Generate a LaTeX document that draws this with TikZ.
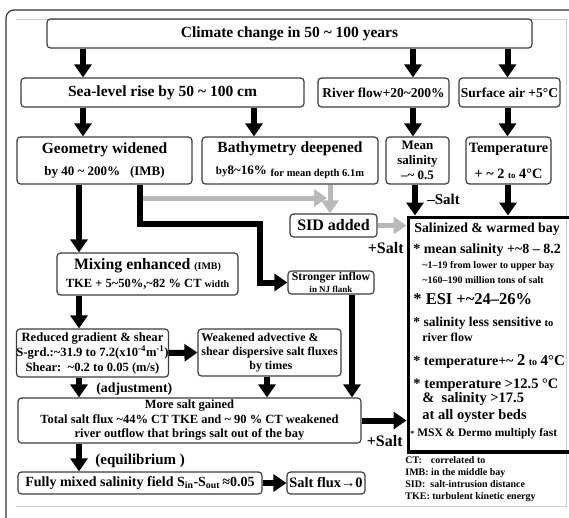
\documentclass[tikz,border=0pt]{standalone}
\usepackage{fontspec}
\setmainfont{Liberation Serif}
\usetikzlibrary{arrows.meta}

\definecolor{boxline}{RGB}{60,60,60}
\definecolor{arrowgrey}{RGB}{185,185,185}
\definecolor{framegrey}{RGB}{205,205,205}
\newcommand{\fsz}[2]{\fontsize{#1}{#2}\selectfont}
\newcommand{\tld}{\textasciitilde}

\tikzset{every picture/.style={line width=0.75pt}}
\tikzset{
  box/.style={draw=boxline, line width=1.2pt, rounded corners=3.5pt, inner sep=0pt, align=center, font=\bfseries},
  bigarrow/.style={draw=black, line width=6pt, -{Triangle[width=17pt,length=13pt]}},
  greyarrow/.style={draw=arrowgrey, line width=5pt, -{Triangle[width=17pt,length=13pt]}},
  lbl/.style={inner sep=0pt, font=\bfseries},
}

\begin{document}
\begin{tikzpicture}[x=1pt,y=1pt,yscale=-1]
\useasboundingbox (0,0) rectangle (569,517);
\clip (0,0) rectangle (569,517);

%Frame
\draw[draw=black!80, line width=1.2pt, rounded corners=8pt] (6,530) -- (6,10) -- (580,10);
\draw[draw=framegrey, line width=1pt] (16,19) -- (566,19) -- (566,506) -- (16,506);

%Boxes
\node[box, minimum width=485, minimum height=29] (climate) at (289.5,33.5) {\fsz{15.5}{18}Climate change in 50 \tld{} 100 years};
\node[box, minimum width=283, minimum height=29] (sealevel) at (162.5,92.5) {\fsz{15.5}{18}Sea-level rise by 50 \tld{} 100 cm};
\node[box, minimum width=131, minimum height=29] (river) at (383.5,92.5) {\fsz{13.5}{16}River flow+20\tld{}200\%};
\node[box, minimum width=101, minimum height=29] (surface) at (509.5,92.5) {\fsz{13.5}{16}Surface air +5°C};
\node[box, minimum width=175, minimum height=47, font=\bfseries\fsz{15.5}{22}] (geometry) at (104.5,160.5) {Geometry widened\\{\fsz{13}{22}by 40 \tld{} 200\%\hspace{10pt}(IMB)}};
\node[box, minimum width=176, minimum height=47, font=\bfseries\fsz{15.5}{22}] (bathy) at (290,160.5) {Bathymetry deepened\\{\fsz{11}{22}by}{\fsz{13}{22}8\tld16\%} \raisebox{-2pt}{\fsz{10.5}{12}for mean depth 6.1m}};
\node[box, minimum width=63, minimum height=47, font=\bfseries\fsz{13}{15}] (meansal) at (417.5,160.5) {Mean\\salinity\\–\tld{} 0.5};
\node[box, minimum width=85, minimum height=47, font=\bfseries\fsz{14.3}{26}] (temp) at (508.5,160.5) {Temperature\\+ \tld{} 2 {\fsz{9}{26}to} 4°C};
\node[box, minimum width=87, minimum height=23] (sid) at (333.5,225.5) {\fsz{16}{18}SID added};
\node[box, minimum width=181, minimum height=42, font=\bfseries\fsz{15.8}{18}] (mixing) at (147.5,274) {Mixing enhanced {\fsz{10}{18}(IMB)}\\{\fsz{12.5}{18}TKE + 5\tld50\%,\tld82 \% CT {\fsz{10}{18}width}}};
\node[box, minimum width=86, minimum height=23, font=\bfseries\fsz{11.7}{12}] (inflow) at (331,282.5) {Stronger inflow\\{\fsz{9}{12}in NJ flank}};
\node[box, minimum width=149, minimum height=48, font=\bfseries\fsz{12.6}{15}] (reduced) at (92.5,353) {Reduced gradient \& shear\\S-grd.:\tld31.9 to 7.2(x10\textsuperscript{-4}m\textsuperscript{-1})\\Shear:\ \ \tld0.2 to 0.05 (m/s)};
\node[box, minimum width=143, minimum height=47, font=\bfseries\fsz{12}{14}, align=left] (weakened) at (269.5,352.5) {Weakened advective \&\\shear dispersive salt fluxes\\\hspace{48pt}by times};
\node[box, minimum width=343, minimum height=45, font=\bfseries\fsz{12.5}{14.5}] (moresalt) at (189.5,420.5) {More salt gained\\Total salt flux \tld44\% CT TKE and \tld{} 90 \% CT weakened\\river outflow that brings salt out of the bay};
\node[box, minimum width=244, minimum height=22, font=\bfseries\fsz{14}{16}] (mixed) at (140,483) {Fully mixed salinity field S\textsubscript{in}-S\textsubscript{out}\,≈0.05};
\node[box, minimum width=78, minimum height=22, font=\bfseries\fsz{14.4}{16}] (saltflux) at (326,483) {Salt flux→0};
\node[draw=black, line width=3.5pt, minimum width=180, minimum height=234.5, inner sep=0pt, anchor=north west] (bay) at (406.5,215.5) {};

% Text Node
\node[lbl, anchor=base, font=\bfseries\fsz{13.8}{16}] (baytitle) at (487,232.5) {Salinized \& warmed bay};
% Text Node
\node[lbl, anchor=base west, font=\bfseries\fsz{14}{16}] (baysal) at (413,253.5) {* mean salinity +\tld8 – 8.2};
% Text Node
\node[lbl, anchor=base west, font=\bfseries\fsz{10}{12}] (baysala) at (422,268.5) {\tld1–19 from lower to upper bay};
% Text Node
\node[lbl, anchor=base west, font=\bfseries\fsz{10}{12}] (baysalb) at (422,283.5) {\tld160–190 million tons of salt};
% Text Node
\node[lbl, anchor=base west, font=\bfseries\fsz{16.5}{18}] (bayesi) at (413,304.5) {* ESI +\tld24–26\%};
% Text Node
\node[lbl, anchor=base west, font=\bfseries\fsz{13.5}{16}] (baysens) at (413,326.5) {* salinity less sensitive {\fsz{10.5}{12}to}};
% Text Node
\node[lbl, anchor=base west, font=\bfseries\fsz{12}{14}] (baysensb) at (422,341) {river flow};
% Text Node
\node[lbl, anchor=base west, font=\bfseries\fsz{14}{16}] (baytemp) at (413,365) {* temperature+\tld{} {\fsz{16.5}{18}2} {\fsz{10}{12}to} {\fsz{15}{18}4°C}};
% Text Node
\node[lbl, anchor=base west, font=\bfseries\fsz{14.5}{16}] (bayoys) at (413,388) {* temperature >12.5 °C};
% Text Node
\node[lbl, anchor=base west, font=\bfseries\fsz{14.5}{16}] (bayoysb) at (422,402) {\& \ salinity >17.5};
% Text Node
\node[lbl, anchor=base west, font=\bfseries\fsz{14.5}{16}] (bayoysc) at (422,419) {at all oyster beds};
% Text Node
\node[lbl, anchor=base west, font=\bfseries\fsz{11.5}{13}] (baymsx) at (410,436) {{\fsz{8}{10}*} MSX \& Dermo multiply fast};

% Text Node
\node[lbl, anchor=base west, font=\bfseries\fsz{10}{12}] (lgct) at (405,463) {CT:\hspace{9pt}correlated to};
% Text Node
\node[lbl, anchor=base west, font=\bfseries\fsz{10}{12}] (lgimb) at (405,475) {IMB: in the middle bay};
% Text Node
\node[lbl, anchor=base west, font=\bfseries\fsz{10}{12}] (lgsid) at (405,487) {SID:\hspace{5pt}salt-intrusion distance};
% Text Node
\node[lbl, anchor=base west, font=\bfseries\fsz{10}{12}] (lgtke) at (405,499) {TKE: turbulent kinetic energy};

% Text Node
\node[lbl, anchor=base west, font=\bfseries\fsz{13.8}{16}] (adjust) at (96,392) {(adjustment)};
% Text Node
\node[lbl, anchor=base west, font=\bfseries\fsz{15}{16}] (equil) at (95,464) {(equilibrium )};
% Text Node
\node[lbl, anchor=base west, font=\bfseries\fsz{15}{16}] (minussalt) at (427,204) {–Salt};
% Text Node
\node[lbl, anchor=base east, font=\bfseries\fsz{16}{18}] (plussalta) at (404,253) {+Salt};
% Text Node
\node[lbl, anchor=base east, font=\bfseries\fsz{16}{18}] (plussaltb) at (403,446) {+Salt};

%Grey Lines
\coordinate (split) at (140,198);
\coordinate (joinpt) at (330,198);
\coordinate (bend) at (260,224);
\draw[greyarrow] (split) -- ([xshift=-3pt]joinpt);
\draw[greyarrow] (bathy.south -| joinpt) -- (sid.north -| joinpt);
\draw[greyarrow] (sid.east) -- (bay.west |- sid.east);

%Straight Lines
\draw[bigarrow] (climate.south -| 83,0) -- (sealevel.north -| 83,0);
\draw[bigarrow] (climate.south -| 413,0) -- (river.north -| 413,0);
\draw[bigarrow] (climate.south -| 507.5,0) -- (surface.north -| 507.5,0);
\draw[bigarrow] (sealevel.south -| 83,0) -- (geometry.north -| 83,0);
\draw[bigarrow] (sealevel.south -| 254,0) -- (bathy.north -| 254,0);
\draw[bigarrow] (river.south -| 413,0) -- (meansal.north -| 413,0);
\draw[bigarrow] (surface.south -| 507.5,0) -- (temp.north -| 507.5,0);
\draw[bigarrow] (meansal.south -| 415,0) -- (bay.north -| 415,0);
\draw[bigarrow] (temp.south -| 508,0) -- (bay.north -| 508,0);
\draw[bigarrow] (geometry.south -| split) |- (bend) |- (inflow.west);
\draw[bigarrow] (geometry.south -| 79,0) -- (mixing.north -| 79,0);
\draw[bigarrow] (mixing.south -| 79,0) -- (reduced.north -| 79,0);
\draw[bigarrow] (reduced.east) -- (weakened.west);
\draw[bigarrow] (reduced.south -| 79,0) -- (moresalt.north -| 79,0);
\draw[bigarrow] (weakened.south -| 267,0) -- (moresalt.north -| 267,0);
\draw[bigarrow] (inflow.south -| 352,0) -- (moresalt.north -| 352,0);
\draw[bigarrow] (moresalt.east) -- (bay.west |- moresalt.east);
\draw[bigarrow] (moresalt.south -| 79,0) -- (mixed.north -| 79,0);
\draw[bigarrow] (mixed.east) -- (saltflux.west);

\end{tikzpicture}
\end{document}
